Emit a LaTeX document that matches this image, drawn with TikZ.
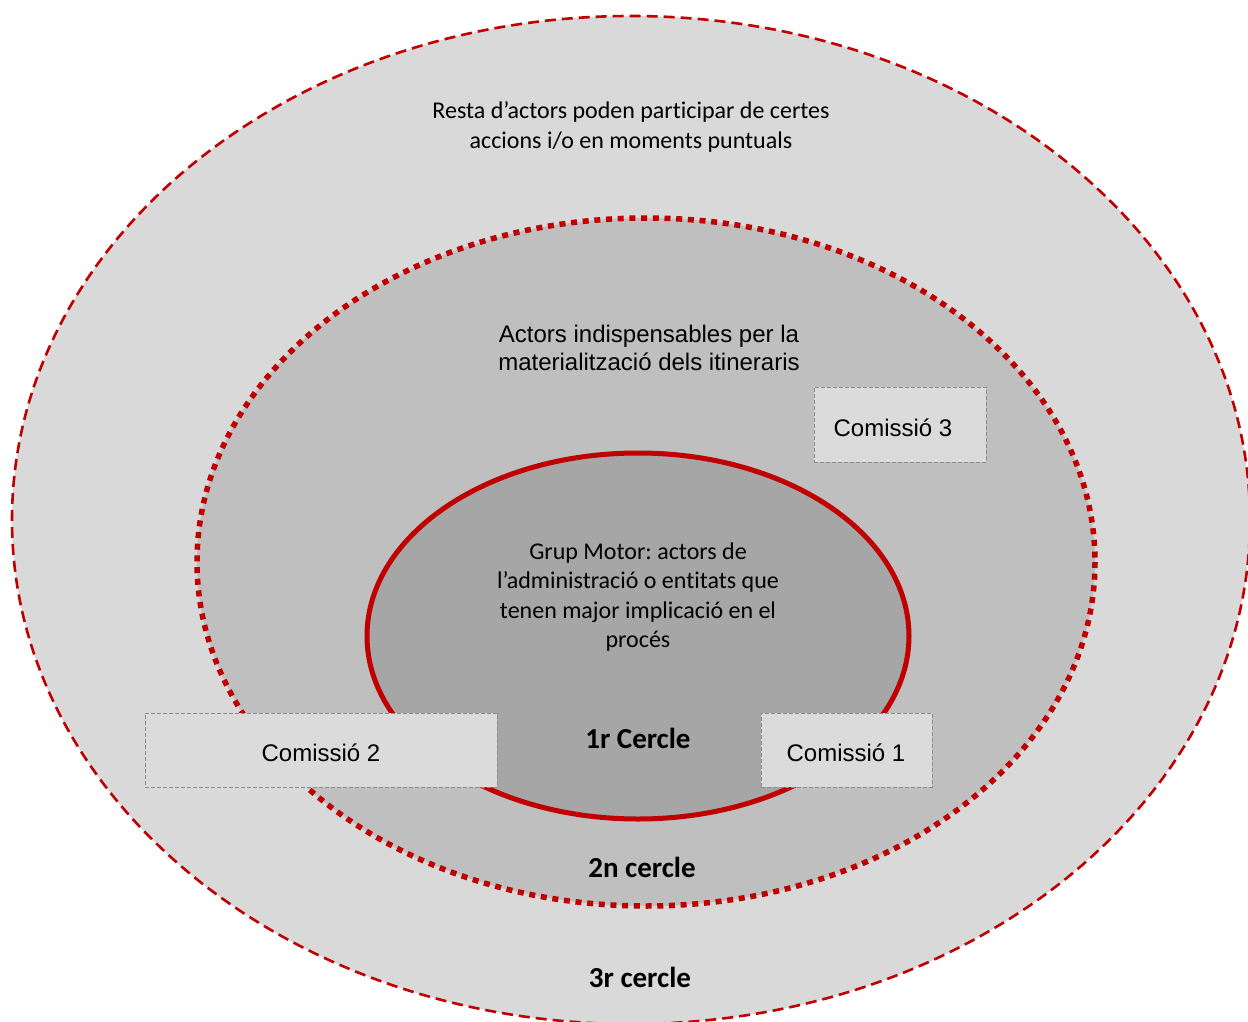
\documentclass[tikz,border=0pt]{standalone}
\usepackage{fontspec}
\setmainfont{Carlito}[Ligatures={NoCommon,TeX}]
\newfontfamily\arialf{Liberation Sans}
\frenchspacing
\definecolor{redc}{HTML}{C00000}
\definecolor{fillA}{HTML}{D9D9D9}
\definecolor{fillB}{HTML}{BFBFBF}
\definecolor{fillC}{HTML}{A6A6A6}
\definecolor{boxfill}{HTML}{DBDBDB}
\definecolor{boxline}{HTML}{8C8C8C}
\tikzset{
  ringthree/.style={fill=fillA, draw=redc, line width=2.6pt, dash pattern=on 11pt off 6pt},
  ringtwo/.style={fill=fillB, draw=redc, line width=5.5pt, dash pattern=on 6pt off 5.7pt},
  ringone/.style={fill=fillC, draw=redc, line width=5pt},
  combox/.style={fill=boxfill, draw=boxline, line width=1pt, dash pattern=on 4pt off 2pt, inner sep=0pt},
  calibritext/.style={font=\frenchspacing\fontsize{24}{29.3}\selectfont, align=center, inner sep=0pt},
  arialtext/.style={font=\arialf\fontsize{24}{27.6}\selectfont, align=center, inner sep=0pt},
  boldlabel/.style={font=\bfseries\fontsize{29}{34}\selectfont, inner sep=0pt}
}
\begin{document}
\begin{tikzpicture}[x=1pt,y=-1pt]
\useasboundingbox (0,0) rectangle (1248,1022);
\fill[white] (0,0) rectangle (1248,1022);
\clip (0,0) rectangle (1248,1022);
% rings
\path[ringthree] (631,520) ellipse [x radius=619, y radius=504];
\path[ringtwo] (646,562) ellipse [x radius=449, y radius=344];
\path[ringone] (638,636) ellipse [x radius=271, y radius=183];
% boxes
\node[combox, minimum width=352pt, minimum height=74pt] (c2) at (321,750) {};
\node[combox, minimum width=171pt, minimum height=74pt] (c1) at (846.5,750) {};
\node[combox, minimum width=172pt, minimum height=75pt] (c3) at (900,424.5) {};
\node[arialtext] (c2t) at (321,753) {Comissió 2};
\node[arialtext] (c1t) at (846,753) {Comissió 1};
\node[arialtext] (c3t) at (893,428) {Comissió 3};
% texts
\node[calibritext] (t3) at (631,127) {Resta d’actors poden participar de certes\\accions i/o en moments puntuals};
\node[arialtext] (t2) at (649,348) {Actors indispensables per la\\materialització dels itineraris};
\node[calibritext] (t1) at (638,597) {Grup Motor: actors de\\l’administració o entitats que\\tenen major implicació en el\\procés};
\node[boldlabel] (l1) at (638,738) {1r Cercle};
\node[boldlabel] (l2) at (642,867) {2n cercle};
\node[boldlabel] (l3) at (640,977) {3r cercle};
\end{tikzpicture}
\end{document}
